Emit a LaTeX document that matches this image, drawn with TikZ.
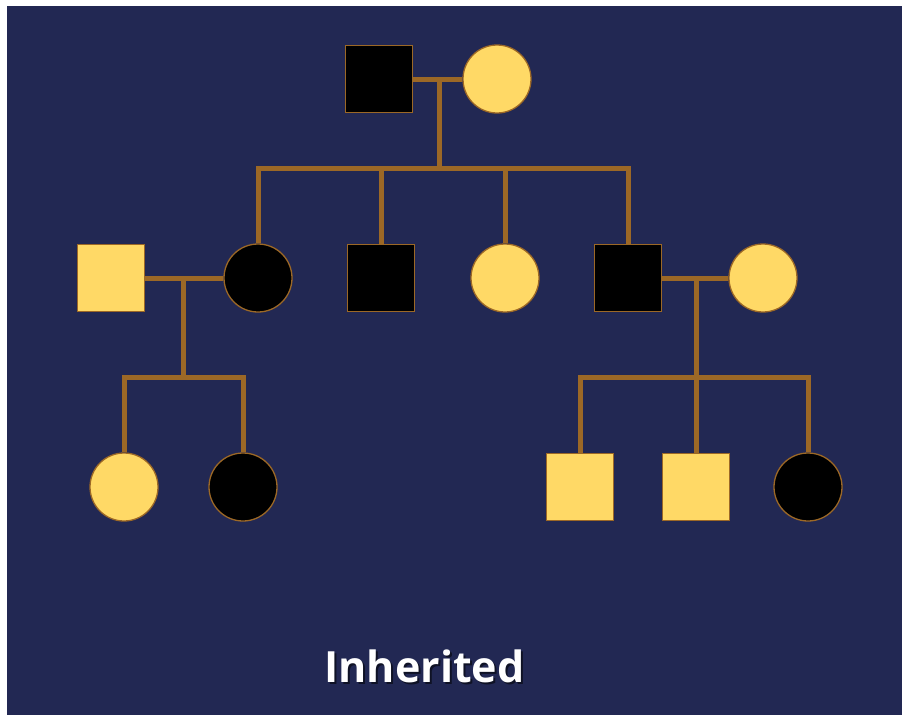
\documentclass[tikz,border=0pt]{standalone}
\usepackage{fontspec}
\setmainfont{Open Sans}
\definecolor{bgblue}{RGB}{34,40,83}
\definecolor{yel}{RGB}{255,217,102}
\definecolor{brn}{RGB}{156,104,38}
\begin{document}
\begin{tikzpicture}[x=1pt,y=-1pt,
  male/.style={rectangle, minimum size=67pt, inner sep=0pt, draw=brn, line width=1.3pt},
  female/.style={circle, minimum size=68pt, inner sep=0pt, draw=brn, line width=1.3pt},
  aff/.style={fill=black},
  unaff/.style={fill=yel},
  link/.style={draw=brn, line width=5pt, line join=miter},
  lbl/.style={font=\fontsize{43}{48}\selectfont\bfseries, inner sep=0pt, anchor=base}]
\useasboundingbox (0,0) rectangle (902,715);
\fill[white] (0,0) rectangle (902,715);
\fill[bgblue] (7,6) rectangle (902,715);
% generation I
\node[male,aff] (g1) at (379,79) {};
\node[female,unaff] (g2) at (497,79) {};
% generation II
\node[male,unaff] (s1) at (111,278) {};
\node[female,aff] (c1) at (258,278) {};
\node[male,aff] (c2) at (381,278) {};
\node[female,unaff] (c3) at (505,278) {};
\node[male,aff] (c4) at (628,278) {};
\node[female,unaff] (s4) at (763,278) {};
% generation III
\node[female,unaff] (k1) at (124,487) {};
\node[female,aff] (k2) at (243,487) {};
\node[male,unaff] (k3) at (580,487) {};
\node[male,unaff] (k4) at (696,487) {};
\node[female,aff] (k5) at (808,487) {};
% junctions
\coordinate (j1) at (439,79);
\coordinate (b1) at (439,168);
\coordinate (j2) at (183,278);
\coordinate (b2) at (183,377);
\coordinate (j3) at (696,278);
\coordinate (b3) at (696,377);
% connectors
\draw[link] (g1.east) -- (g2.west);
\draw[link] (j1) -- (b1);
\draw[link] (c1.north) |- (c4.north |- b1) -- (c4.north);
\draw[link] (c2.north) -- (c2.north |- b1);
\draw[link] (c3.north) -- (c3.north |- b1);
\draw[link] (s1.east) -- (c1.west);
\draw[link] (j2) -- (b2);
\draw[link] (k1.north) |- (k2.north |- b2) -- (k2.north);
\draw[link] (c4.east) -- (s4.west);
\draw[link] (j3) -- (b3);
\draw[link] (k3.north) |- (k5.north |- b3) -- (k5.north);
\draw[link] (k4.north) -- (k4.north |- b3);
% title
\node[lbl, text=black, opacity=0.55] (tsh) at (426.5,684.5) {Inherited};
\node[lbl, text=white] (title) at (424.5,682) {Inherited};
\end{tikzpicture}
\end{document}
